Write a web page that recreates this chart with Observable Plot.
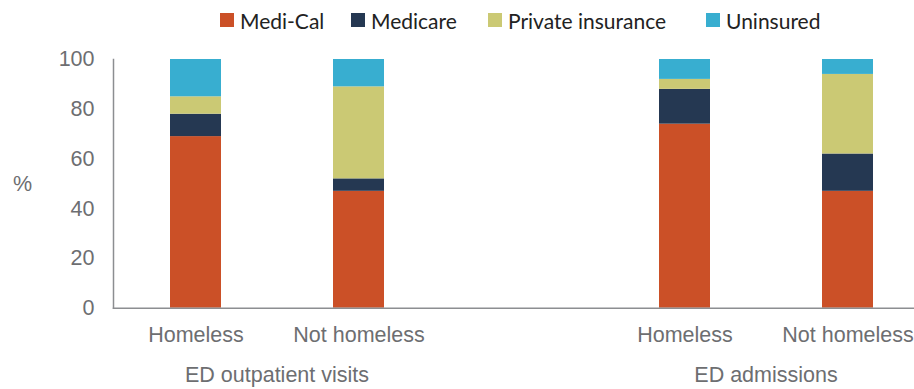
<!DOCTYPE html>
<html>
<head>
<meta charset="utf-8">
<script src="https://cdn.jsdelivr.net/npm/d3@7"></script>
<script src="https://cdn.jsdelivr.net/npm/@observablehq/plot@0.6"></script>
<style>
  html, body { margin: 0; padding: 0; background: #fff; }
  #wrap { width: 914px; height: 389px; overflow: hidden; position: relative; }
  #legend { height: 40px; position: relative; font-family: Lato, sans-serif; font-size: 21px; color: #222; }
  .item { position: absolute; top: 0; height: 40px; display: flex; align-items: center; white-space: nowrap; }
  .sw { width: 14px; height: 14px; margin-right: 6px; }
</style>
</head>
<body>
<div id="wrap">
  <div id="legend"></div>
  <div id="chart"></div>
</div>
<script>
const seriesNames = ["Medi-Cal", "Medicare", "Private insurance", "Uninsured"];
const seriesColors = ["#cb5027", "#253852", "#cbc974", "#38aed0"];
const groups = ["ED outpatient visits", "ED outpatient visits", "ED admissions", "ED admissions"];
const statuses = ["Homeless", "Not homeless", "Homeless", "Not homeless"];
const mediCal = [69, 47, 74, 47];
const medicare = [9, 5, 14, 15];
const privateIns = [7, 37, 4, 32];
const uninsured = [15, 11, 8, 6];
const yTicks = [0, 20, 40, 60, 80, 100];
const groupOrder = ["ED outpatient visits", "ED admissions"];
const statusOrder = ["Homeless", "Not homeless"];

const seriesValues = [mediCal, medicare, privateIns, uninsured];
const data = [];
statuses.forEach((s, i) => {
  seriesNames.forEach((name, k) => {
    data.push({group: groups[i], status: s, series: name, value: seriesValues[k][i]});
  });
});

// legend (HTML, above the SVG)
const legendLeft = [220, 351, 488, 706];
const legend = document.getElementById("legend");
seriesNames.forEach((name, k) => {
  const it = document.createElement("div");
  it.className = "item";
  it.style.left = legendLeft[k] + "px";
  const sw = document.createElement("div");
  sw.className = "sw";
  sw.style.background = seriesColors[k];
  const t = document.createElement("span");
  t.textContent = name;
  it.appendChild(sw); it.appendChild(t);
  legend.appendChild(it);
});

const axisColor = "#6d6e71";
const chart = Plot.plot({
  width: 914,
  height: 349,
  marginTop: 19,
  marginBottom: 81.3,
  marginLeft: 112,
  marginRight: -15.5,
  style: {fontFamily: "'Liberation Sans', Arial, sans-serif", fontSize: "21.5px", color: axisColor, background: "white", overflow: "visible"},
  fx: {domain: groupOrder, paddingInner: 0.3306, paddingOuter: 0},
  x: {domain: statusOrder, paddingInner: 0.688, paddingOuter: 0.344},
  y: {domain: [0, 100]},
  color: {domain: seriesNames, range: seriesColors},
  marks: [
    Plot.barY(data, {fx: "group", x: "status", y: "value", fill: "series", order: seriesNames}),
    Plot.frame({anchor: "bottom", facet: "super", stroke: "#8c8e91", strokeWidth: 1.5}),
    Plot.frame({anchor: "left", facet: "super", stroke: "#8c8e91", strokeWidth: 1.5}),
    Plot.axisY({ticks: yTicks, tickSize: 0, tickPadding: 19, label: null, fill: axisColor}),
    Plot.axisX({tickSize: 0, tickPadding: 19, label: null, fill: axisColor}),
    Plot.axisFx({anchor: "bottom", tickSize: 0, tickPadding: 58.5, label: null, fill: axisColor}),
    Plot.text(["%"], {frameAnchor: "left", dx: -91, facet: "super", fill: axisColor, textAnchor: "middle"})
  ]
});
document.getElementById("chart").appendChild(chart);
</script>
</body>
</html>
